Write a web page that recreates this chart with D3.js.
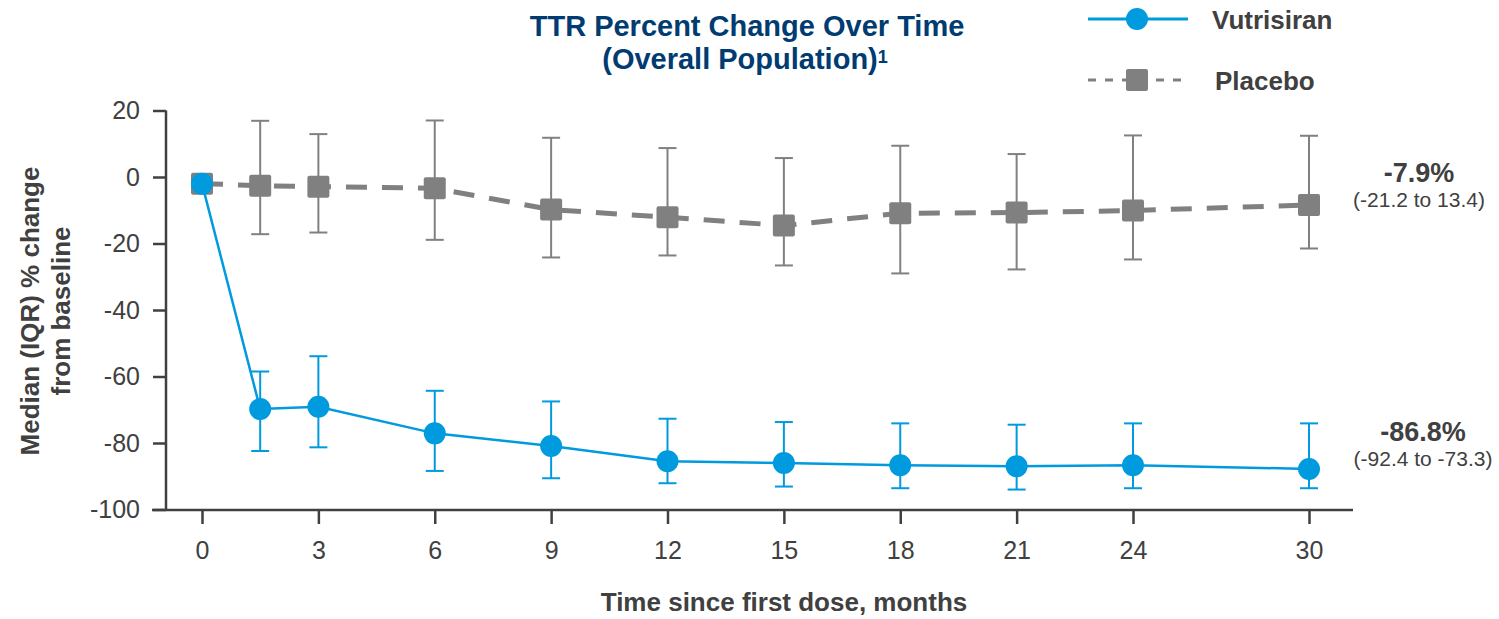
<!DOCTYPE html>
<html>
<head>
<meta charset="utf-8">
<script src="https://cdn.jsdelivr.net/npm/d3@7"></script>
<style>
  body { margin: 0; background: #fff; }
  text { font-family: "Liberation Sans", Arial, sans-serif; }
</style>
</head>
<body>
<div class="vis"></div>
<script>
// months since first dose
const months = [0, 1.5, 3, 6, 9, 12, 15, 18, 21, 24, 30];
const xTicks = [0, 3, 6, 9, 12, 15, 18, 21, 24, 30];
const yTicks = [20, 0, -20, -40, -60, -80, -100];

// median and IQR
const vutMedian = [-2, -69.8, -69.1, -77.1, -80.9, -85.5, -86.0, -86.7, -87.0, -86.7, -87.8];
const vutLow    = [null, -82.4, -81.3, -88.4, -90.6, -92.1, -93.1, -93.6, -94.0, -93.6, -93.6];
const vutHigh   = [null, -58.5, -53.9, -64.3, -67.5, -72.7, -73.7, -74.1, -74.5, -74.1, -74.1];

const plaMedian = [-2, -2.6, -2.9, -3.4, -9.8, -12.1, -14.6, -10.9, -10.7, -10.1, -8.4];
const plaLow    = [null, -17.2, -16.7, -18.9, -24.2, -23.6, -26.6, -29.0, -27.8, -24.8, -21.5];
const plaHigh   = [null, 16.9, 12.9, 17.0, 11.8, 8.7, 5.7, 9.4, 6.9, 12.5, 12.4];

function init(){
    createChart(".vis");
}

function createChart(id){
    const width = 1499, height = 619;
    const textCol = "#404040", blue = "#009ADE", grey = "#808080";

    const svg = d3.select(id)
        .append("svg")
        .attr("width", width)
        .attr("height", height);

    // time axis is squeezed between 24 and 30 in the original
    const x = d3.scaleLinear().domain([0, 24, 30]).range([202, 1133, 1309]);
    const y = d3.scaleLinear().domain([-100, 20]).range([509.5, 110.5]);

    // title
    svg.append("text")
        .attr("x", 747).attr("y", 36)
        .attr("text-anchor", "middle")
        .style("font-size", "29px").style("font-weight", "bold")
        .style("fill", "#003B71")
        .text("TTR Percent Change Over Time");
    const t2 = svg.append("text")
        .attr("x", 745).attr("y", 69)
        .attr("text-anchor", "middle")
        .style("font-size", "29px").style("font-weight", "bold")
        .style("fill", "#003B71");
    t2.append("tspan").text("(Overall Population)");
    t2.append("tspan").attr("dy", -6).style("font-size", "18px").text("1");

    // axes
    const yAxis = svg.append("g")
        .attr("transform", "translate(166,0)")
        .call(d3.axisLeft(y).tickValues(yTicks).tickFormat(d => String(d)).tickSize(13).tickPadding(13));
    const xAxis = svg.append("g")
        .attr("transform", "translate(0,510)")
        .call(d3.axisBottom(x).tickValues(xTicks).tickFormat(d => String(d)).tickSize(14).tickPadding(17));
    [yAxis, xAxis].forEach(a => {
        a.select(".domain").remove();
        a.selectAll("line").attr("stroke", textCol).attr("stroke-width", 2.5);
        a.selectAll("text").style("font-size", "25px").style("fill", textCol)
            .style("font-family", "'Liberation Sans', Arial, sans-serif");
    });
    svg.append("line").attr("x1", 166).attr("x2", 166).attr("y1", y(20)).attr("y2", 511)
        .attr("stroke", textCol).attr("stroke-width", 2.5);
    svg.append("line").attr("x1", 152).attr("x2", 1353).attr("y1", 510).attr("y2", 510)
        .attr("stroke", textCol).attr("stroke-width", 2.5);

    // axis titles
    const yl = svg.append("text")
        .attr("transform", "translate(0,311) rotate(-90)")
        .attr("text-anchor", "middle")
        .style("font-size", "26px").style("font-weight", "bold").style("fill", textCol);
    yl.append("tspan").attr("x", 0).attr("y", 39).text("Median (IQR) % change");
    yl.append("tspan").attr("x", 0).attr("y", 70).text("from baseline");

    svg.append("text")
        .attr("x", 784).attr("y", 611)
        .attr("text-anchor", "middle")
        .style("font-size", "26px").style("font-weight", "bold").style("fill", textCol)
        .text("Time since first dose, months");

    const line = d3.line().x(d => x(d.t)).y(d => y(d.m));
    const pla = months.map((t, i) => ({t: t, m: plaMedian[i], lo: plaLow[i], hi: plaHigh[i]}));
    const vut = months.map((t, i) => ({t: t, m: vutMedian[i], lo: vutLow[i], hi: vutHigh[i]}));

    function errorBars(data, col){
        const g = svg.append("g").attr("stroke", col).attr("stroke-width", 2);
        const d = data.filter(p => p.lo !== null);
        g.selectAll(".v").data(d).join("line")
            .attr("x1", p => x(p.t)).attr("x2", p => x(p.t))
            .attr("y1", p => y(p.hi)).attr("y2", p => y(p.lo));
        g.selectAll(".top").data(d).join("line").attr("class", "top")
            .attr("x1", p => x(p.t) - 9).attr("x2", p => x(p.t) + 9)
            .attr("y1", p => y(p.hi)).attr("y2", p => y(p.hi));
        g.selectAll(".bot").data(d).join("line").attr("class", "bot")
            .attr("x1", p => x(p.t) - 9).attr("x2", p => x(p.t) + 9)
            .attr("y1", p => y(p.lo)).attr("y2", p => y(p.lo));
    }

    // placebo
    errorBars(pla, grey);
    svg.append("path").datum(pla)
        .attr("d", line).attr("fill", "none")
        .attr("stroke", grey).attr("stroke-width", 5)
        .attr("stroke-dasharray", "21,15");
    svg.selectAll(".sq").data(pla).join("rect").attr("class", "sq")
        .attr("x", p => x(p.t) - 11).attr("y", p => y(p.m) - 11)
        .attr("width", 22).attr("height", 22).attr("rx", 2)
        .attr("fill", grey);

    // vutrisiran
    errorBars(vut, blue);
    svg.append("path").datum(vut)
        .attr("d", line).attr("fill", "none")
        .attr("stroke", blue).attr("stroke-width", 2.5);
    svg.selectAll(".dot").data(vut).join("circle").attr("class", "dot")
        .attr("cx", p => x(p.t)).attr("cy", p => y(p.m)).attr("r", 11)
        .attr("fill", blue);

    // end-of-study annotations
    const notes = [
        {big: "-7.9%", small: "(-21.2 to 13.4)", cx: 1419, yb: 182},
        {big: "-86.8%", small: "(-92.4 to -73.3)", cx: 1423, yb: 441}
    ];
    notes.forEach(n => {
        svg.append("text").attr("x", n.cx).attr("y", n.yb).attr("text-anchor", "middle")
            .style("font-size", "27px").style("font-weight", "bold").style("fill", textCol)
            .text(n.big);
        svg.append("text").attr("x", n.cx).attr("y", n.yb + 25).attr("text-anchor", "middle")
            .style("font-size", "21px").style("fill", textCol)
            .text(n.small);
    });

    // legend
    const lg = svg.append("g");
    lg.append("line").attr("x1", 1088).attr("x2", 1188).attr("y1", 19).attr("y2", 19)
        .attr("stroke", blue).attr("stroke-width", 3);
    lg.append("circle").attr("cx", 1137).attr("cy", 19).attr("r", 11).attr("fill", blue);
    lg.append("text").attr("x", 1212).attr("y", 29)
        .style("font-size", "26px").style("font-weight", "bold").style("fill", textCol)
        .text("Vutrisiran");
    lg.append("line").attr("x1", 1088).attr("x2", 1188).attr("y1", 80).attr("y2", 80)
        .attr("stroke", grey).attr("stroke-width", 3).attr("stroke-dasharray", "8,9");
    lg.append("rect").attr("x", 1126).attr("y", 69).attr("width", 22).attr("height", 22)
        .attr("rx", 2).attr("fill", grey);
    lg.append("text").attr("x", 1215).attr("y", 90)
        .style("font-size", "26px").style("font-weight", "bold").style("fill", textCol)
        .text("Placebo");
}

init();
</script>
</body>
</html>
